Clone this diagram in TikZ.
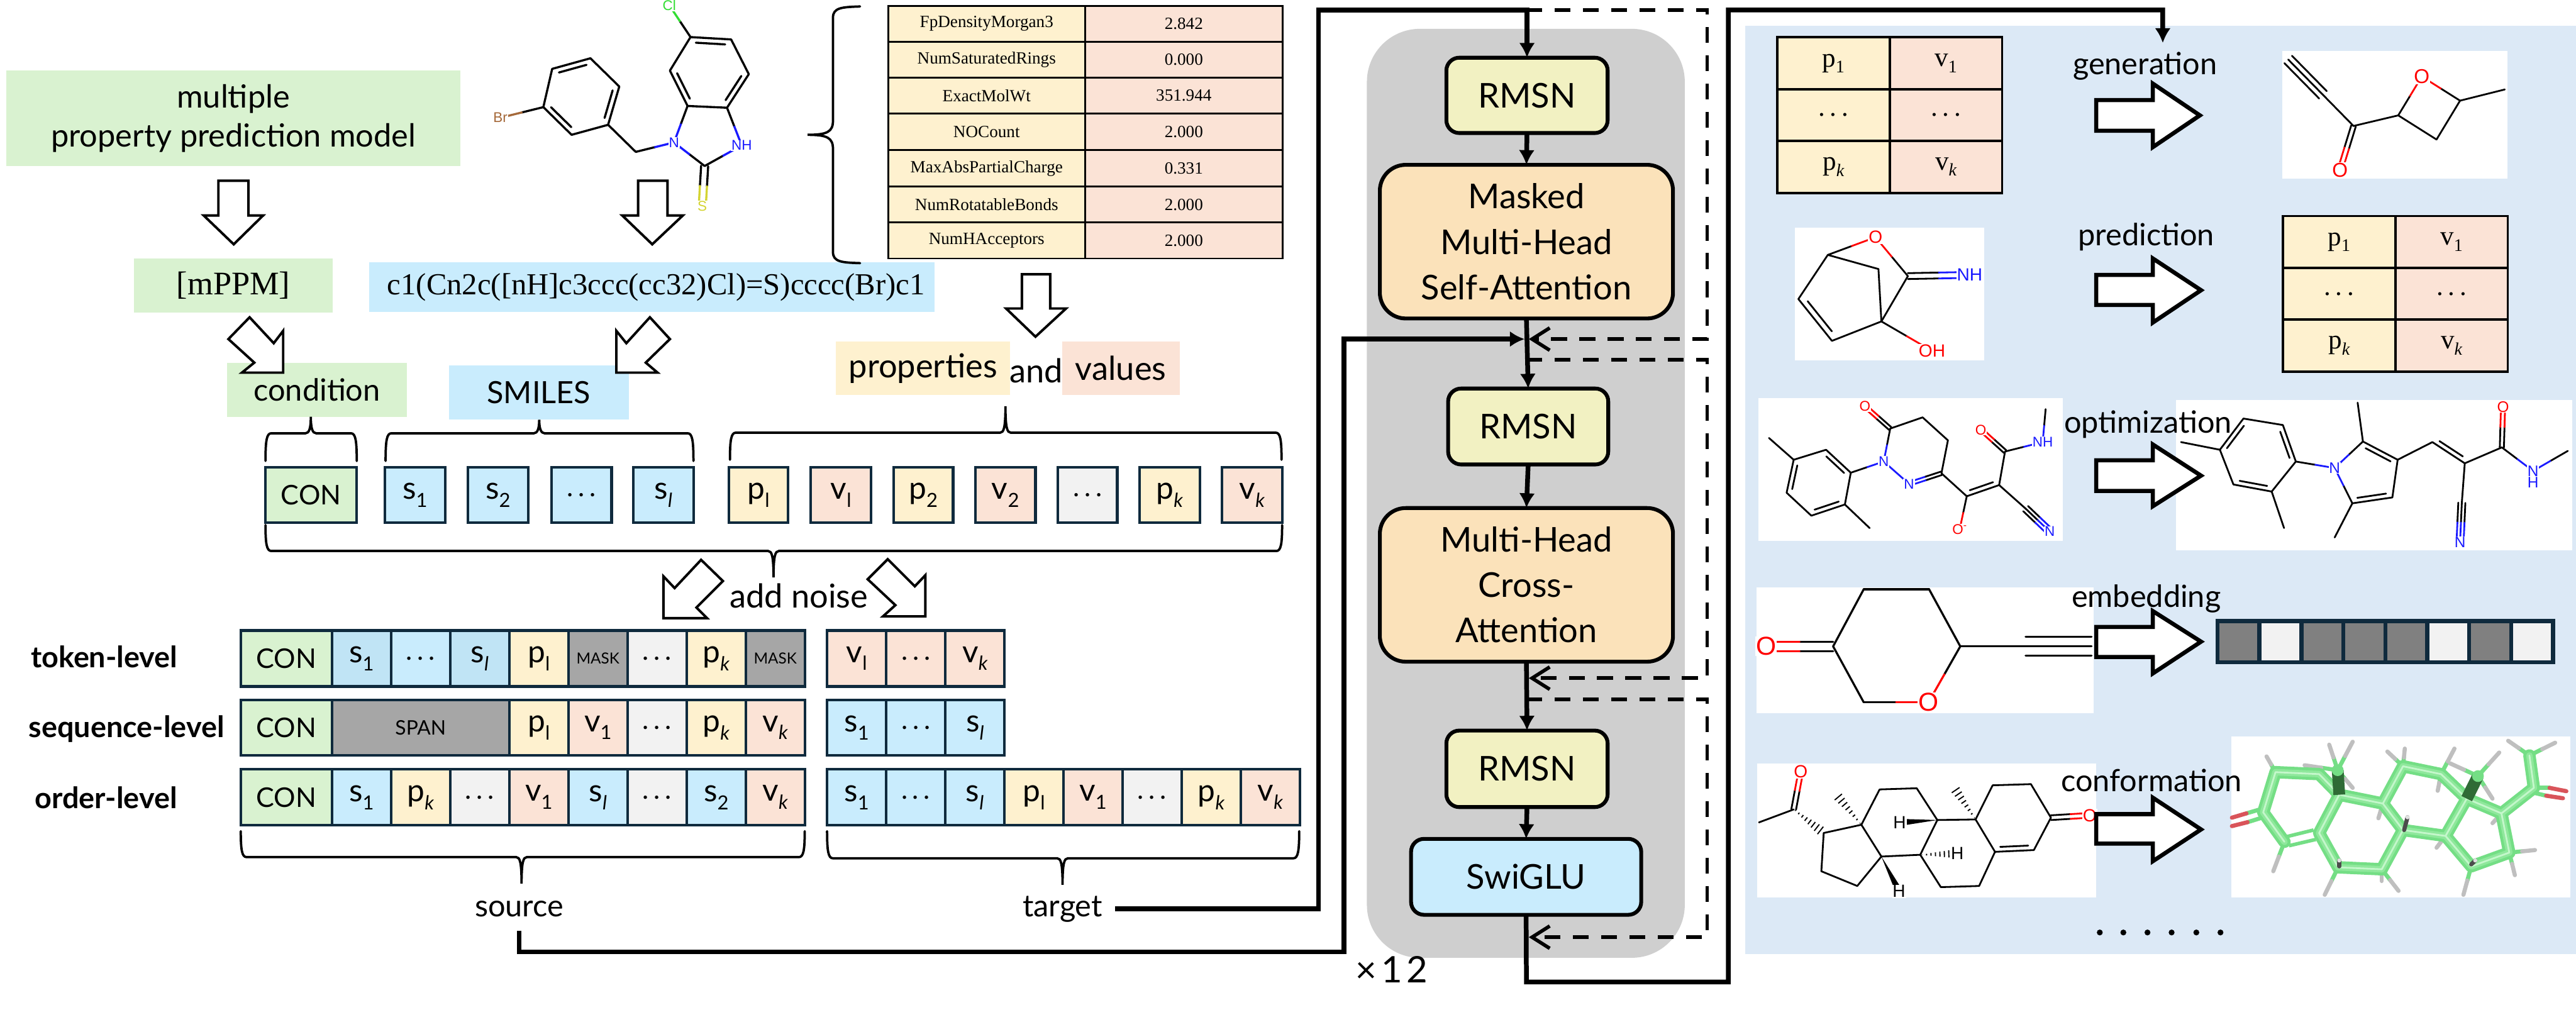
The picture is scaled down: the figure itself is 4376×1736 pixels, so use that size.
\documentclass[tikz,border=0pt]{standalone}
\usepackage{fontspec}
\usepackage{graphicx}
\usetikzlibrary{calc,arrows.meta}
\setmainfont{Lato}
\newfontfamily\srf{Liberation Serif}
\newfontfamily\labf{Liberation Sans}
\definecolor{cGreen}{HTML}{D9F2D0}
\definecolor{cBlue}{HTML}{C9ECFD}
\definecolor{cBlueD}{HTML}{C0E4F5}
\definecolor{cYel}{HTML}{FEF1CF}
\definecolor{cPeach}{HTML}{FBE3D6}
\definecolor{cLight}{HTML}{F2F2F2}
\definecolor{cMask}{HTML}{A6A6A6}
\definecolor{cNavy}{HTML}{0F2A3D}
\definecolor{cPanel}{HTML}{DCE9F6}
\definecolor{cBlock}{HTML}{CFCFCF}
\definecolor{cRmsn}{HTML}{F2F1C2}
\definecolor{cAttn}{HTML}{FBE2BA}
\definecolor{cBr}{HTML}{A5693A}
\definecolor{cCl}{HTML}{33DD33}
\definecolor{cS}{HTML}{D4D433}
\definecolor{cN}{HTML}{1A1AFF}
\definecolor{cStick}{HTML}{74DE85}
\definecolor{cStickM}{HTML}{8FE89C}
\definecolor{cStickH}{HTML}{C4F7CB}
\definecolor{cStickD}{HTML}{2F6B36}
\definecolor{cOx}{HTML}{D9545A}
\newcommand\fz[2]{\fontsize{#1}{#2}\selectfont}
% box from corners
\newcommand\bx[7]{%
  \pgfmathsetmacro\cxx{(#2+#4)/2}\pgfmathsetmacro\cyy{(#3+#5)/2}%
  \pgfmathsetmacro\ww{#4-#2}\pgfmathsetmacro\hh{#5-#3}%
  \node[#6,minimum width=\ww pt,minimum height=\hh pt,inner sep=0pt,outer sep=0pt] (#1) at (\cxx,\cyy) {#7};}
% token texts
\newcommand\sbs[2]{{\fontsize{53}{53}\selectfont #1}\raisebox{-.3em}{\fontsize{33}{33}\selectfont #2}}
\newcommand\sA{\sbs{s}{1}}\newcommand\sB{\sbs{s}{2}}\newcommand\sL{\sbs{s}{\itshape l}}
\newcommand\pA{\sbs{p}{l}}\newcommand\pB{\sbs{p}{2}}\newcommand\pK{\sbs{p}{\itshape k}}
\newcommand\vA{\sbs{v}{1}}\newcommand\vI{\sbs{v}{l}}\newcommand\vB{\sbs{v}{2}}\newcommand\vK{\sbs{v}{\itshape k}}
\newcommand\dotz{.\kern.18em.\kern.18em.}
\newcommand\mkz{{\fz{26}{30}MASK}}
\newcommand\spn{{\fz{34}{40}SPAN}}
% table texts
\newcommand\tsub[2]{#1\raisebox{-.22em}{\fontsize{30}{30}\selectfont #2}}
% molecule helpers
\newcommand\mBd[2]{\draw[mol] (#1) -- (#2);}
\newcommand\mHb[3]{\draw[mol] (#1) -- ($(#1)!.5!(#2)$);\draw[mol,#3] ($(#1)!.5!(#2)$) -- (#2);}
\newcommand\mInd[3]{\draw[mol] ($(#1)!.14!(#2)!#3!90:(#2)$) -- ($(#2)!.14!(#1)!#3!-90:(#1)$);}
\newcommand\mDb[4]{%
 \draw[mol] ($(#1)!#4!90:(#2)$) -- ($(#1)!.5!(#2)!#4!90:(#2)$);
 \draw[mol,#3] ($(#1)!.5!(#2)!#4!90:(#2)$) -- ($(#2)!#4!-90:(#1)$);
 \draw[mol] ($(#1)!-#4!90:(#2)$) -- ($(#1)!.5!(#2)!-#4!90:(#2)$);
 \draw[mol,#3] ($(#1)!.5!(#2)!-#4!90:(#2)$) -- ($(#2)!-#4!-90:(#1)$);}
\newcommand\aLab[4]{\node[fill=white,inner sep=1pt,text=#3,font=\labf\fz{#4}{#4}] at (#1) {#2};}
\newcommand\mTri[4]{% triple: a,b,colour end,off
 \mHb{#1}{#2}{#3}
 \mDb{#1}{#2}{#3}{#4}}
\newcommand\mWdg[3]{\fill (#1) -- ($(#2)!#3!90:(#1)$) -- ($(#2)!#3!-90:(#1)$) -- cycle;}
\newcommand\mHash[3]{\foreach \q in {.05,.17,...,1.0}{%
  \pgfmathsetmacro\wq{\q*#3}%
  \draw[line width=2pt] ($(#1)!\q!(#2)!\wq pt!90:(#2)$) -- ($(#1)!\q!(#2)!\wq pt!-90:(#2)$);}}
\tikzset{
  x=1pt,y=-1pt,
  cellb/.style={draw=cNavy,line width=4.5pt,fill=#1,font=\fz{46}{50}},
  ttab/.style={draw=black,line width=3pt,fill=#1,font=\srf\fz{29}{32}},
  ptab/.style={draw=black,line width=4pt,fill=#1,font=\srf\fz{46}{50}},
  lab/.style={font=\fz{#1}{#1},inner sep=0pt},
  hollow/.style={draw=black,fill=white,line width=4.2pt,line join=miter},
  bigh/.style={draw=black,fill=white,line width=7pt,line join=miter},
  br/.style={draw=black,line width=4pt,line cap=round},
  bus/.style={draw=black,line width=8pt},
  flow/.style={draw=black,line width=8pt,-{Latex[length=25pt,width=27pt]}},
  dsh/.style={draw=black,line width=6pt,dash pattern=on 27pt off 21pt},
  barb/.style={-{Straight Barb[length=30pt,width=38pt,line width=6pt]}},
  modbox/.style={draw=black,line width=6.5pt,fill=#1,rounded corners=22pt,align=center,font=\fz{58}{77}},
  attn/.style={draw=black,line width=6.5pt,fill=cAttn,rounded corners=44pt,align=center,font=\fz{58}{77}},
  mol/.style={line width=\mlw,line cap=round,line join=round},
  tag/.style={font=\fz{52}{52},inner sep=0pt},
}
\newcommand\mlw{3pt}
% braces: #1 x1, #2 x2, #3 xtip, #4 y of ends, #5 y of bar, #6 y of tip, #7 +1 if ends lie below the bar, -1 otherwise
\newcommand\hbr[7]{\draw[br] ({#1},{#4}) .. controls ({#1},{#5+12*#7}) and ({#1+2},{#5}) .. ({#1+10},{#5}) -- ({#3-9},{#5}) .. controls ({#3-3},{#5}) and ({#3},{#5-8*#7}) .. ({#3},{#6}) .. controls ({#3},{#5-8*#7}) and ({#3+3},{#5}) .. ({#3+9},{#5}) -- ({#2-10},{#5}) .. controls ({#2-2},{#5}) and ({#2},{#5+12*#7}) .. ({#2},{#4});}
\newcommand\ptable[8]{%
  \bx{#1a}{#2}{#5}{#3}{#6}{ptab=cYel}{\tsub{p}{1}}
  \bx{#1b}{#3}{#5}{#4}{#6}{ptab=cPeach}{\tsub{v}{1}}
  \bx{#1c}{#2}{#6}{#3}{#7}{ptab=cYel}{\dotz}
  \bx{#1d}{#3}{#6}{#4}{#7}{ptab=cPeach}{\dotz}
  \bx{#1e}{#2}{#7}{#3}{#8}{ptab=cYel}{\tsub{p}{\itshape k}}
  \bx{#1f}{#3}{#7}{#4}{#8}{ptab=cPeach}{\tsub{v}{\itshape k}}
}
\newcommand\rarrow[6]{\draw[bigh] (3561,#2) -- (3657,#2) -- (3657,#4) -- (#1,#6) -- (3657,#5) -- (3657,#3) -- (3561,#3) -- cycle;}
\begin{document}
\begin{tikzpicture}
\useasboundingbox (0,0) rectangle (4376,1736);
\fill[white] (0,0) rectangle (4376,1736);

% ---- top-left boxes
\bx{mpm}{11}{120}{782}{282}{fill=cGreen,align=center,font=\fz{54}{67}}{multiple\\property prediction model}
\draw[hollow] (371,307) -- (422,307) -- (422,366) -- (447,366) -- (397,415) -- (346,366) -- (371,366) -- cycle;
\bx{tagm}{228}{439}{565}{531}{fill=cGreen,font=\srf\fz{56}{60}}{[mPPM]}
\bx{smistr}{627}{446}{1588}{530}{fill=cBlue,font=\srf\fz{52}{56}}{\kern14pt c1(Cn2c([nH]c3ccc(cc32)Cl)=S)cccc(Br)c1}
\draw[hollow] (1084,307) -- (1134,307) -- (1134,366) -- (1160,366) -- (1108,415) -- (1057,366) -- (1084,366) -- cycle;
\bx{cond}{386}{616}{691}{708}{fill=cGreen,font=\fz{52}{56}}{condition}
\bx{smil}{763}{621}{1068}{713}{fill=cBlue,font=\fz{52}{56}}{SMILES}
\draw[hollow] (424,539) -- (388,576) -- (432,616) -- (411,633) -- (481,633) -- (481,562) -- (465,583) -- cycle;
\draw[hollow] (1104,539) -- (1138,576) -- (1097,616) -- (1117,633) -- (1047,633) -- (1047,562) -- (1064,583) -- cycle;

% ---- top molecule
\begin{scope}
\renewcommand\mlw{3.6pt}
\coordinate (Cl) at (1137,9); \coordinate (a1) at (1173,63); \coordinate (a2) at (1242,67);
\coordinate (a3) at (1272,126); \coordinate (a4) at (1235,183); \coordinate (a5) at (1168,180);
\coordinate (a6) at (1138,120); \coordinate (N1) at (1145,242); \coordinate (a7) at (1197,282);
\coordinate (N3) at (1260,247); \coordinate (Sx) at (1193,350); \coordinate (a8) at (1080,258);
\coordinate (b1) at (1033,212); \coordinate (b2) at (971,229); \coordinate (b3) at (923,182);
\coordinate (b4) at (938,117); \coordinate (b5) at (1003,99); \coordinate (b6) at (1052,147);
\coordinate (Brx) at (850,200);
\foreach \p/\r in {a1/a2,a2/a3,a3/a4,a4/a5,a5/a6,a6/a1,b1/b2,b2/b3,b3/b4,b4/b5,b5/b6,b6/b1,b1/a8}{\mBd{\p}{\r}}
\mInd{a1}{a2}{-9pt}\mInd{a3}{a4}{-9pt}\mInd{a5}{a6}{-9pt}
\mInd{b2}{b3}{-9pt}\mInd{b4}{b5}{-9pt}\mInd{b6}{b1}{-9pt}
\mHb{a1}{Cl}{cCl}\mHb{a5}{N1}{cN}\mHb{a4}{N3}{cN}\mHb{a7}{N1}{cN}\mHb{a7}{N3}{cN}\mHb{a8}{N1}{cN}\mHb{b3}{Brx}{cBr}
\mDb{a7}{Sx}{cS}{6pt}
\aLab{Cl}{Cl}{cCl}{24}\aLab{N1}{N}{cN}{24}\aLab{N3}{NH}{cN}{24}\aLab{Sx}{S}{cS}{24}\aLab{Brx}{Br}{cBr}{24}
\end{scope}

% ---- property table
\draw[br] (1461,11) .. controls (1430,12) and (1415,13) .. (1415,30) -- (1415,205) .. controls (1415,224) and (1405,229) .. (1372,229) .. controls (1405,229) and (1415,234) .. (1415,253) -- (1415,428) .. controls (1415,445) and (1430,446) .. (1461,447);
\foreach \kk/\vv/\ya/\yb [count=\i] in {FpDensityMorgan3/2.842/10/71,NumSaturatedRings/0.000/71/132,ExactMolWt/351.944/132/193,NOCount/2.000/193/255,MaxAbsPartialCharge/0.331/255/317,NumRotatableBonds/2.000/317/378,NumHAcceptors/2.000/378/439}{
  \bx{tk\i}{1509}{\ya}{1843}{\yb}{ttab=cYel}{\kk}
  \bx{tv\i}{1843}{\ya}{2179}{\yb}{ttab=cPeach}{\vv}
}
\draw[hollow] (1736,466) -- (1784,466) -- (1784,524) -- (1811,524) -- (1759,572) -- (1709,524) -- (1736,524) -- cycle;
\bx{tagp}{1420}{580}{1716}{671}{fill=cYel,font=\fz{56}{60}}{properties}
\bx{tagv}{1804}{580}{2004}{671}{fill=cPeach,font=\fz{56}{60}}{values}
\node[lab=56] (tagand) at (1760,630) {and};

% ---- braces above tokens
\hbr{451}{606}{528}{783}{736}{708}{1}
\hbr{655}{1178}{916}{783}{736}{713}{1}
\hbr{1240}{2177}{1708}{781}{735}{690}{1}

% ---- token row
\bx{r0}{451}{794}{606}{888}{cellb=cGreen,font=\fz{46}{50}}{CON}
\bx{r1}{654}{794}{756}{888}{cellb=cBlue}{\sA}
\bx{r2}{795}{794}{897}{888}{cellb=cBlue}{\sB}
\bx{r3}{937}{794}{1039}{888}{cellb=cBlue}{\dotz}
\bx{r4}{1076}{794}{1178}{888}{cellb=cBlue}{\sL}
\bx{r5}{1238}{794}{1339}{888}{cellb=cYel}{\pA}
\bx{r6}{1377}{794}{1480}{888}{cellb=cPeach}{\vI}
\bx{r7}{1518}{794}{1619}{888}{cellb=cYel}{\pB}
\bx{r8}{1657}{794}{1759}{888}{cellb=cPeach}{\vB}
\bx{r9}{1797}{794}{1898}{888}{cellb=cLight}{\dotz}
\bx{r10}{1936}{794}{2038}{888}{cellb=cYel}{\pK}
\bx{r11}{2076}{794}{2178}{888}{cellb=cPeach}{\vK}
\hbr{451}{2178}{1314}{892}{936}{981}{-1}

% ---- add noise
\node[lab=56] (noise) at (1357,1012) {add noise};
\draw[hollow] (1191,951) -- (1228,987) -- (1183,1032) -- (1201,1050) -- (1127,1050) -- (1127,979) -- (1146,999) -- cycle;
\draw[hollow] (1508,950) -- (1474,984) -- (1521,1028) -- (1500,1047) -- (1572,1047) -- (1572,977) -- (1554,996) -- cycle;

% ---- level labels
\node[inner sep=0pt,font=\fz{50}{50}\bfseries] (ltok) at (177,1116) {token-level};
\node[inner sep=0pt,font=\fz{50}{50}\bfseries] (lseq) at (215,1238) {sequence-level};
\node[inner sep=0pt,font=\fz{50}{50}\bfseries] (lord) at (180,1355) {order-level};

% ---- noisy rows, source
\bx{ta0}{409}{1071}{564}{1166}{cellb=cGreen}{CON}
\foreach \fc/\tx [count=\i from 0] in {cBlueD/\sA,cBlue/\dotz,cBlueD/\sL,cYel/\pA,cMask/\mkz,cLight/\dotz,cYel/\pK,cMask/\mkz}{
  \pgfmathsetmacro\xa{564+100.4*\i}\pgfmathsetmacro\xb{\xa+100.4}
  \bx{ta\i x}{\xa}{1071}{\xb}{1166}{cellb=\fc}{\tx}}
\bx{tb0}{409}{1189}{564}{1283}{cellb=cGreen}{CON}
\bx{tbs}{564}{1189}{865}{1283}{cellb=cMask}{\spn}
\foreach \fc/\tx [count=\i from 3] in {cYel/\pA,cPeach/\vA,cLight/\dotz,cYel/\pK,cPeach/\vK}{
  \pgfmathsetmacro\xa{564+100.4*\i}\pgfmathsetmacro\xb{\xa+100.4}
  \bx{tb\i x}{\xa}{1189}{\xb}{1283}{cellb=\fc}{\tx}}
\bx{tc0}{409}{1307}{564}{1402}{cellb=cGreen}{CON}
\foreach \fc/\tx [count=\i from 0] in {cBlue/\sA,cYel/\pK,cLight/\dotz,cPeach/\vA,cBlue/\sL,cLight/\dotz,cBlue/\sB,cPeach/\vK}{
  \pgfmathsetmacro\xa{564+100.4*\i}\pgfmathsetmacro\xb{\xa+100.4}
  \bx{tc\i x}{\xa}{1307}{\xb}{1402}{cellb=\fc}{\tx}}
% ---- targets
\foreach \tx [count=\i from 0] in {\vI,\dotz,\vK}{
  \pgfmathsetmacro\xa{1405+100.5*\i}\pgfmathsetmacro\xb{\xa+100.5}
  \bx{ua\i}{\xa}{1071}{\xb}{1166}{cellb=cPeach}{\tx}}
\foreach \tx [count=\i from 0] in {\sA,\dotz,\sL}{
  \pgfmathsetmacro\xa{1405+100.5*\i}\pgfmathsetmacro\xb{\xa+100.5}
  \bx{ub\i}{\xa}{1189}{\xb}{1283}{cellb=cBlue}{\tx}}
\foreach \fc/\tx [count=\i from 0] in {cBlue/\sA,cBlue/\dotz,cBlue/\sL,cYel/\pA,cPeach/\vA,cLight/\dotz,cYel/\pK,cPeach/\vK}{
  \pgfmathsetmacro\xa{1405+100.4*\i}\pgfmathsetmacro\xb{\xa+100.4}
  \bx{uc\i}{\xa}{1307}{\xb}{1402}{cellb=\fc}{\tx}}
\hbr{409}{1367}{886}{1412}{1456}{1501}{-1}
\hbr{1405}{2207}{1805}{1412}{1458}{1503}{-1}
\node[font=\fz{52}{52},minimum height=74pt,inner sep=0pt,outer sep=0pt] (source) at (882,1544) {source};
\node[font=\fz{52}{52},minimum width=178pt,inner sep=0pt,outer sep=0pt] (target) at (1805,1544) {target};

% ---- decoder block
\bx{block}{2322}{49}{2862}{1627}{fill=cBlock,rounded corners=90pt}{}
\bx{rmsnA}{2457}{98}{2731}{226}{modbox=cRmsn}{RMSN}
\bx{masked}{2344}{280}{2842}{541}{attn}{Masked\\Multi-Head\\Self-Attention}
\bx{rmsnB}{2460}{660}{2732}{789}{modbox=cRmsn}{RMSN}
\bx{cross}{2344}{863}{2842}{1124}{attn}{Multi-Head\\Cross-\\Attention}
\bx{rmsnC}{2457}{1241}{2731}{1371}{modbox=cRmsn}{RMSN}
\bx{swiglu}{2397}{1425}{2788}{1554}{modbox=cBlue}{SwiGLU}
\node[font=\fz{62}{62},inner sep=0pt] (times) at (2364,1647) {×\kern8pt 1\kern6pt 2};

\coordinate (jTop) at (2593,17);
\coordinate (jA) at (2593,576); \coordinate (jB) at (2593,611);
\coordinate (jC) at (2593,1152); \coordinate (jD) at (2593,1188);
\coordinate (jE) at (2593,1592); \coordinate (jBot) at (2593,1668);
\coordinate (dA) at (2900,17); \coordinate (dB) at (2900,576);
\coordinate (dC) at (2900,611); \coordinate (dD) at (2900,1152);
\coordinate (dE) at (2900,1188); \coordinate (dF) at (2900,1592);
\coordinate (jAr) at (2597,576); \coordinate (jCr) at (2597,1152); \coordinate (jEr) at (2597,1592);
\draw[dsh,barb] (jTop) -- (dA) -- (dB) -- (jAr);
\draw[dsh,barb] (jB) -- (dC) -- (dD) -- (jCr);
\draw[dsh,barb] (jD) -- (dE) -- (dF) -- (jEr);

\coordinate (tA) at (2240,1544); \coordinate (tB) at (2240,17);
\draw[bus,-{Latex[length=25pt,width=27pt]}] (target.east) -- (tA) -- (tB) -- (rmsnA.north |- tB) -- (rmsnA.north);
\coordinate (sA) at (882,1617); \coordinate (sB) at (2283,1617); \coordinate (sC) at (2283,576);
\coordinate (jAl) at (2590,576);
\draw[bus,-{Latex[length=25pt,width=27pt]}] (source.south) -- (sA) -- (sB) -- (sC) -- (jAl);
\draw[flow] (rmsnA.south) -- (masked.north);
\draw[flow] (masked.south) -- (rmsnB.north);
\draw[flow] (rmsnB.south) -- (cross.north);
\draw[flow] (cross.south) -- (rmsnC.north);
\draw[flow] (rmsnC.south) -- (swiglu.north);
\coordinate (oA) at (2936,1668); \coordinate (oB) at (2936,17); \coordinate (oC) at (3674,17); \coordinate (oD) at (3674,73);

% ---- right panel
\fill[cPanel] (2965,44) rectangle (4376,1621);
\draw[bus,-{Latex[length=25pt,width=27pt]}] (swiglu.south) -- (jBot) -- (oA) -- (oB) -- (oC) -- (oD);

\ptable{gt}{3019}{3210}{3401}{63}{152}{239}{328}
\ptable{pt}{3878}{4069}{4260}{367}{455}{543}{631}

% molecule images
\fill[white] (3877,87) rectangle (4259,303);
\fill[white] (3049,387) rectangle (3371,612);
\fill[white] (2987,676) rectangle (3504,919);
\fill[white] (3697,679) rectangle (4369,935);
\fill[white] (2984,998) rectangle (3556,1211);
\fill[white] (2985,1297) rectangle (3561,1525);
\fill[white] (3790,1251) rectangle (4366,1525);

% generation molecule
\begin{scope}
\renewcommand\mlw{3pt}
\coordinate (g1) at (3887,101); \coordinate (g2) at (3946,161); \coordinate (g3) at (3998,214);
\coordinate (gO) at (3975,289); \coordinate (g4) at (4074,196); \coordinate (gQ) at (4114,130);
\coordinate (g5) at (4179,171); \coordinate (g6) at (4255,152); \coordinate (g7) at (4139,237);
\mBd{g1}{g2}
\draw[mol] ($(g1)!9pt!90:(g2)$) -- ($(g2)!9pt!-90:(g1)$);
\draw[mol] ($(g1)!-9pt!90:(g2)$) -- ($(g2)!-9pt!-90:(g1)$);
\mBd{g2}{g3}\mBd{g3}{g4}\mBd{g5}{g6}\mBd{g5}{g7}\mBd{g7}{g4}
\mDb{g3}{gO}{red}{4pt}\mHb{g4}{gQ}{red}\mHb{g5}{gQ}{red}
\aLab{gO}{O}{red}{34}\aLab{gQ}{O}{red}{34}
\end{scope}

% prediction molecule
\begin{scope}
\renewcommand\mlw{3pt}
\coordinate (h1) at (3105,433); \coordinate (hO) at (3186,403); \coordinate (h2) at (3241,469);
\coordinate (hN) at (3346,467); \coordinate (h3) at (3196,546); \coordinate (hH) at (3282,596);
\coordinate (h4) at (3112,579); \coordinate (h5) at (3055,508); \coordinate (h6) at (3191,457);
\mBd{h2}{h3}\mBd{h3}{h4}\mBd{h4}{h5}\mBd{h5}{h1}\mBd{h1}{h6}\mBd{h6}{h3}
\mInd{h4}{h5}{-10pt}
\mHb{h1}{hO}{red}\mHb{h2}{hO}{red}\mHb{h3}{hH}{red}\mDb{h2}{hN}{cN}{5pt}
\aLab{hO}{O}{red}{30}\aLab{hN}{NH}{cN}{30}\aLab{hH}{OH}{red}{30}
\end{scope}

% optimization input
\begin{scope}
\renewcommand\mlw{3pt}
\coordinate (i1) at (3005,744); \coordinate (i2) at (3047,781); \coordinate (i3) at (3102,764);
\coordinate (i4) at (3144,803); \coordinate (i5) at (3134,857); \coordinate (i6) at (3077,876);
\coordinate (i7) at (3035,837); \coordinate (i8) at (3176,897); \coordinate (iN) at (3200,784);
\coordinate (i9) at (3211,728); \coordinate (iO) at (3168,690); \coordinate (i10) at (3266,709);
\coordinate (i11) at (3309,748); \coordinate (i12) at (3298,804); \coordinate (iM) at (3243,822);
\coordinate (i13) at (3341,843); \coordinate (iP) at (3329,899); \coordinate (i14) at (3396,824);
\coordinate (i15) at (3406,767); \coordinate (iQ) at (3365,730); \coordinate (iH) at (3470,751);
\coordinate (i16) at (3475,695); \coordinate (i17) at (3441,864); \coordinate (iZ) at (3482,903);
\foreach \p/\r in {i1/i2,i2/i3,i3/i4,i4/i5,i5/i6,i6/i7,i7/i2,i5/i8,i9/i10,i10/i11,i11/i12,i12/i13,i14/i15,i14/i17}{\mBd{\p}{\r}}
\mInd{i2}{i7}{8pt}\mInd{i3}{i4}{-8pt}\mInd{i5}{i6}{-8pt}
\mBd{i13}{i14}\mInd{i13}{i14}{8pt}
\mHb{i4}{iN}{cN}\mHb{i9}{iN}{cN}\draw[mol,cN] (iN) -- (iM);
\mDb{i12}{iM}{cN}{3pt}\mDb{i9}{iO}{red}{3pt}\mDb{i15}{iQ}{red}{3pt}
\mHb{i13}{iP}{red}\mHb{i15}{iH}{cN}\draw[mol] (i16) -- ($(i16)!.5!(iH)$);\draw[mol,cN] ($(i16)!.5!(iH)$) -- (iH);
\mTri{i17}{iZ}{cN}{6pt}
\aLab{iN}{N}{cN}{24}\aLab{iM}{N}{cN}{24}\aLab{iO}{O}{red}{24}\aLab{iQ}{O}{red}{24}
\aLab{iH}{NH}{cN}{24}\aLab{iZ}{N}{cN}{24}\aLab{iP}{O\textsuperscript{-}}{red}{24}
\end{scope}

% optimization output
\begin{scope}
\renewcommand\mlw{3pt}
\coordinate (k1) at (3705,751); \coordinate (k2) at (3771,764); \coordinate (k3) at (3811,711);
\coordinate (k4) at (3878,722); \coordinate (k5) at (3900,784); \coordinate (k6) at (3859,835);
\coordinate (k7) at (3794,823); \coordinate (k8) at (3880,897); \coordinate (kN) at (3966,795);
\coordinate (k9) at (4014,750); \coordinate (k10) at (4005,684); \coordinate (k11) at (4073,781);
\coordinate (k12) at (4064,845); \coordinate (k13) at (3996,855); \coordinate (k14) at (3966,913);
\coordinate (k15) at (4132,751); \coordinate (k16) at (4187,787); \coordinate (k17) at (4250,760);
\coordinate (kO) at (4252,691); \coordinate (kH) at (4303,800); \coordinate (kHH) at (4303,820); \coordinate (k18) at (4362,766);
\coordinate (k19) at (4182,854); \coordinate (kZ) at (4179,921);
\foreach \p/\r in {k1/k2,k2/k3,k3/k4,k4/k5,k5/k6,k6/k7,k7/k2,k6/k8,k9/k10,k9/k11,k11/k12,k12/k13,k13/k14,k11/k15,k15/k16,k16/k17,k16/k19}{\mBd{\p}{\r}}
\mInd{k3}{k2}{8pt}\mInd{k4}{k5}{-8pt}\mInd{k6}{k7}{-8pt}\mInd{k9}{k11}{-8pt}\mInd{k12}{k13}{-8pt}\mInd{k15}{k16}{8pt}
\mHb{k5}{kN}{cN}\mHb{k9}{kN}{cN}\mHb{k13}{kN}{cN}
\mDb{k17}{kO}{red}{3.5pt}\mHb{k17}{kH}{cN}\mHb{k18}{kH}{cN}\mTri{k19}{kZ}{cN}{6pt}
\aLab{kN}{N}{cN}{26}\aLab{kO}{O}{red}{26}\aLab{kH}{N}{cN}{26}\aLab{kHH}{H}{cN}{26}\aLab{kZ}{N}{cN}{26}
\end{scope}

% embedding molecule
\begin{scope}
\renewcommand\mlw{3.5pt}
\coordinate (m1) at (3166,1001); \coordinate (m2) at (3277,1001); \coordinate (m3) at (3330,1098);
\coordinate (mO) at (3276,1193); \coordinate (m4) at (3166,1193); \coordinate (m5) at (3114,1098);
\coordinate (mP) at (3000,1098); \coordinate (m6) at (3441,1098); \coordinate (m7) at (3553,1098);
\foreach \p/\r in {m1/m2,m2/m3,m3/m6,m6/m7,m4/m5,m5/m1}{\mBd{\p}{\r}}
\mHb{m3}{mO}{red}\mHb{m4}{mO}{red}\mDb{m5}{mP}{red}{8pt}
\draw[mol] ($(m6)!16pt!90:(m7)$) -- ($(m7)!16pt!-90:(m6)$);
\draw[mol] ($(m6)!-16pt!90:(m7)$) -- ($(m7)!-16pt!-90:(m6)$);
\aLab{mO}{O}{red}{44}\aLab{mP}{O}{red}{44}
\end{scope}

% conformation molecule, 2D
\begin{scope}
\renewcommand\mlw{3pt}
\coordinate (c0) at (3059,1311); \coordinate (c1) at (3047,1375); \coordinate (c2) at (2988,1397);
\coordinate (c3) at (3098,1415); \coordinate (c4) at (3162,1401); \coordinate (c5) at (3196,1455);
\coordinate (c6) at (3155,1505); \coordinate (c7) at (3094,1480); \coordinate (c8) at (3193,1341);
\coordinate (c9) at (3256,1339); \coordinate (c10) at (3291,1393); \coordinate (c11) at (3262,1452);
\coordinate (c12) at (3356,1392); \coordinate (c13) at (3389,1447); \coordinate (c14) at (3362,1505);
\coordinate (c15) at (3297,1507); \coordinate (c16) at (3385,1334); \coordinate (c17) at (3450,1332);
\coordinate (c18) at (3484,1389); \coordinate (c19) at (3455,1444); \coordinate (cO) at (3550,1385);
\coordinate (cM1) at (3118,1348); \coordinate (cM2) at (3318,1336); \coordinate (cH1) at (3227,1397);
\coordinate (cH2) at (3325,1450); \coordinate (cH3) at (3226,1514);
\foreach \p/\r in {c1/c2,c3/c4,c4/c5,c5/c6,c6/c7,c7/c3,c4/c8,c8/c9,c9/c10,c10/c11,c11/c5,c10/c12,c12/c13,c13/c14,c14/c15,c15/c11,c12/c16,c16/c17,c17/c18,c18/c19,c19/c13}{\mBd{\p}{\r}}
\mInd{c19}{c13}{-8pt}
\mDb{c1}{c0}{red}{4pt}\mDb{c18}{cO}{red}{4pt}
\mHash{c1}{c3}{9}\mHash{c4}{cM1}{9}\mHash{c12}{cM2}{9}\mHash{c11}{cH2}{8}
\mWdg{c10}{cH1}{6pt}\mWdg{c5}{cH3}{6pt}
\aLab{c0}{O}{red}{30}\aLab{cO}{O}{red}{30}\aLab{cH1}{H}{black}{30}\aLab{cH2}{H}{black}{30}\aLab{cH3}{H}{black}{30}
\end{scope}

% conformation molecule, 3D
\begin{scope}[shift={(3780,1240)},x=.38pt,y=-.3333pt]
\coordinate (a) at (225,215); \coordinate (b) at (420,225); \coordinate (c) at (510,330);
\coordinate (d) at (170,420); \coordinate (e) at (265,570); \coordinate (f) at (420,525);
\coordinate (g) at (505,700); \coordinate (h) at (700,710); \coordinate (i) at (795,510);
\coordinate (j) at (705,375); \coordinate (k) at (795,185); \coordinate (l) at (965,225);
\coordinate (m) at (1080,350); \coordinate (n) at (985,540); \coordinate (o) at (1100,695);
\coordinate (p) at (1270,625); \coordinate (q) at (1235,425); \coordinate (r) at (1380,295);
\coordinate (s) at (1360,130); \coordinate (u) at (503,205); \coordinate (w) at (1130,235);
\foreach \bs/\tpx/\tpy in {a/185/135,e/215/720,g/445/840,h/775/820,h/700/770,o/1065/840,p/1295/740,p/1385/612,s/1265/55,s/1475/65,k/725/110,k/803/95,l/1025/95,u/355/180,u/465/75,u/570/60,u/570/295,w/1005/170,w/1225/115,w/1195/350,j/685/450,n/945/600,q/1195/475,l/950/310}{
  \draw[line width=7pt,line cap=round,draw=cStick] (\bs) -- ($(\bs)!.5!(\tpx,\tpy)$);
  \draw[line width=7pt,line cap=round,draw=black!25] ($(\bs)!.5!(\tpx,\tpy)$) -- (\tpx,\tpy);
}
\draw[line width=7pt,line cap=round,draw=cStick] (170,400) -- (95,425);
\draw[line width=7pt,line cap=round,draw=cStick] (170,445) -- (100,470);
\draw[line width=7pt,line cap=round,draw=cOx] (95,425) -- (30,447);
\draw[line width=7pt,line cap=round,draw=cOx] (100,470) -- (30,490);
\draw[line width=7pt,line cap=round,draw=cStick] (r) -- (1450,295);
\draw[line width=7pt,line cap=round,draw=cStick] (1380,320) -- (1435,335);
\draw[line width=7pt,line cap=round,draw=cOx] (1450,295) -- (1525,312);
\draw[line width=7pt,line cap=round,draw=cOx] (1435,335) -- (1510,348);
\draw[line width=6pt,draw=cStick] (270,545) -- (395,510);
\draw[line width=6pt,draw=cStick] (285,590) -- (405,558);
\foreach \st/\wdd in {cStick/21,cStickM/11,cStickH/3}{
  \draw[line width=\wdd pt,draw=\st,line join=round,line cap=round] (e) -- (d) -- (a) -- (b) -- (c) -- (f) -- (g) -- (h) -- (i) -- (j) -- (c);
  \draw[line width=\wdd pt,draw=\st,line join=round,line cap=round] (j) -- (k) -- (l) -- (m) -- (n) -- (o) -- (p) -- (q) -- (m);
  \draw[line width=\wdd pt,draw=\st,line join=round,line cap=round] (i) -- (n);
  \draw[line width=\wdd pt,draw=\st,line join=round,line cap=round] (q) -- (r) -- (s);
}
\draw[line width=20pt,draw=cStickD] (c) -- (u);
\draw[line width=20pt,draw=cStickD] (m) -- (w);
\fill[cStick] (u) circle[radius=10pt];
\fill[cStick] (w) circle[radius=10pt];
\foreach \bsx/\bsy/\tpx/\tpy in {800/510/815/445,510/695/510/665,1100/685/1118/665}{
  \draw[line width=7pt,line cap=round,draw=black!70] (\bsx,\bsy) -- (\tpx,\tpy);
  \fill[black!12] (\tpx,\tpy) circle[radius=3.5pt];
}
\end{scope}

% embedding bar
\foreach \fc [count=\i from 0] in {gray,cLight,gray,gray,gray,cLight,gray,cLight}{
  \pgfmathsetmacro\xa{3767+71.25*\i}\pgfmathsetmacro\xb{\xa+71.25}
  \bx{em\i}{\xa}{1055}{\xb}{1125}{draw=cNavy,line width=7pt,fill=\fc}{}}

% task arrows and labels
\rarrow{3737}{170}{222}{142}{250}{196}
\rarrow{3739}{467}{518}{439}{548}{493}
\rarrow{3739}{782}{834}{755}{860}{808}
\rarrow{3739}{1065}{1116}{1038}{1144}{1090}
\rarrow{3739}{1383}{1433}{1355}{1463}{1409}
\node[tag] (tGen) at (3644,112) {generation};
\node[tag] (tPre) at (3646,403) {prediction};
\node[tag] (tOpt) at (3649,721) {optimization};
\node[tag] (tEmb) at (3646,1017) {embedding};
\node[tag] (tCon) at (3655,1326) {conformation};
\foreach \xd [count=\i] in {3567,3607,3648,3689,3731,3772}{
  \fill (\xd,1584) circle[radius=5pt];
}
\end{tikzpicture}
\end{document}
